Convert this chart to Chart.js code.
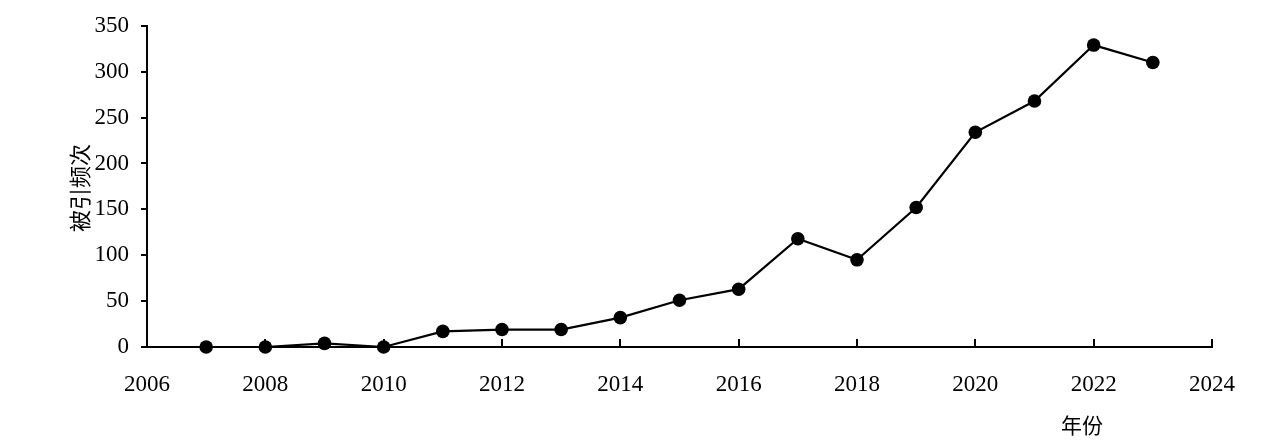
<!DOCTYPE html>
<html><head><meta charset="utf-8">
<script src="https://cdn.jsdelivr.net/npm/chart.js@4"></script>
<style>html,body{margin:0;padding:0;background:#fff;}#wrap{width:1270px;height:442px;position:relative;}</style>
</head><body><div id="wrap"><canvas id="c"></canvas></div>
<script>
const years = [2007,2008,2009,2010,2011,2012,2013,2014,2015,2016,2017,2018,2019,2020,2021,2022,2023];
const citations = [0,0,4,0,17,19,19,32,51,63,118,95,152,234,268,329,310];
const xTicks = [2006,2008,2010,2012,2014,2016,2018,2020,2022,2024];
const yTicks = [0,50,100,150,200,250,300,350];
const yTitle = '被引频次';
const xTitle = '年份';

const serif = '"Liberation Serif","Times New Roman",serif';
const cjk = '"Noto Sans CJK SC","Noto Serif CJK SC",sans-serif';

const decor = {
  id:'decor',
  afterDraw(chart){
    const ctx = chart.ctx, x = chart.scales.x, y = chart.scales.y;
    ctx.save();
    ctx.strokeStyle='#000'; ctx.lineWidth=2;
    xTicks.forEach(v=>{
      const px = Math.round(x.getPixelForValue(v));
      ctx.beginPath(); ctx.moveTo(px, y.bottom); ctx.lineTo(px, y.bottom-8); ctx.stroke();
    });
    ctx.fillStyle='#000';
    ctx.font = '21px ' + cjk;
    ctx.textAlign='center'; ctx.textBaseline='middle';
    ctx.fillText(xTitle, 1082, 425);
    ctx.translate(80, 188);
    ctx.rotate(-Math.PI/2);
    ctx.font = '22px ' + cjk;
    ctx.fillText(yTitle, 0, 0);
    ctx.restore();
  }
};

new Chart(document.getElementById('c'), {
  type:'line',
  data:{ datasets:[{
    data: years.map((yr,i)=>({x:yr, y:citations[i]})),
    borderColor:'#000', borderWidth:2.2, backgroundColor:'#000',
    pointRadius:6.8, pointHoverRadius:6.8, pointBackgroundColor:'#000', pointBorderColor:'#000', pointBorderWidth:0,
    tension:0, clip:false
  }]},
  options:{
    responsive:true, maintainAspectRatio:false, animation:false,
    devicePixelRatio:1,
    layout:{ padding:{ left:0, right:58, top:25, bottom:0 } },
    plugins:{ legend:{display:false}, tooltip:{enabled:false} },
    scales:{
      x:{
        type:'linear', min:2006, max:2024,
        afterBuildTicks(s){ s.ticks = xTicks.map(v=>({value:v})); },
        afterFit(s){ s.height = 95; },
        border:{ display:true, color:'#000', width:2 },
        grid:{ display:false, drawTicks:false },
        ticks:{ color:'#000', font:{ family:serif, size:23 }, padding:24, maxRotation:0, autoSkip:false, callback:v=>String(v) }
      },
      y:{
        min:0, max:350,
        afterBuildTicks(s){ s.ticks = yTicks.map(v=>({value:v})); },
        afterFit(s){ s.width = 147; },
        border:{ display:true, color:'#000', width:2 },
        grid:{ drawOnChartArea:false, drawTicks:true, tickLength:6, color:'#000', lineWidth:2 },
        ticks:{ color:'#000', font:{ family:serif, size:23 }, padding:12, autoSkip:false }
      }
    }
  },
  plugins:[decor]
});
</script></body></html>
